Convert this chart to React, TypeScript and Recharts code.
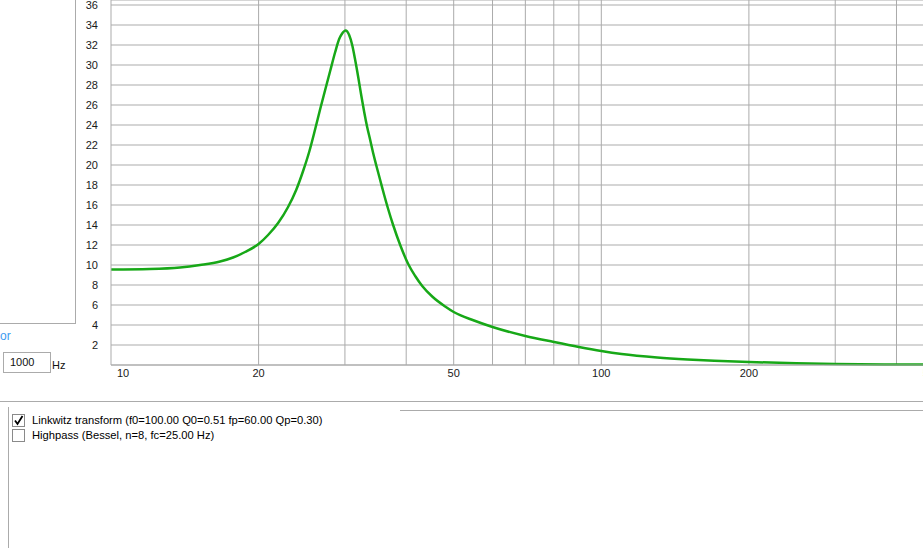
import { LineChart, Line, XAxis, YAxis, CartesianGrid, ReferenceLine } from 'recharts';

// frequency (Hz) and response (dB)
const freqs = [10, 12.01, 13.83, 15.19, 16.69, 17.74, 18.77, 20, 20.91, 21.92, 22.97, 23.86, 24.65, 25.36, 26.09, 26.71, 27.34, 27.99, 28.66, 29.2, 29.61, 30.1, 30.6, 31.04, 31.48, 31.93, 32.38, 32.84, 33.3, 33.78, 34.25, 34.74, 35.4, 36.07, 36.75, 37.62, 38.89, 40.38, 41.73, 43.13, 45.2, 48.04, 50, 55, 60, 70, 80, 90, 100, 110, 130, 150, 170, 200, 250, 300, 400, 500];
const gains = [9.55, 9.6, 9.75, 10.0, 10.35, 10.75, 11.3, 12.1, 13.0, 14.2, 15.8, 17.5, 19.4, 21.3, 23.6, 25.6, 27.5, 29.4, 31.3, 32.6, 33.15, 33.45, 33.0, 32.0, 30.5, 28.8, 27.0, 25.3, 23.8, 22.5, 21.2, 20.0, 18.5, 17.0, 15.6, 14.0, 12.0, 10.1, 8.9, 7.9, 6.85, 5.85, 5.3, 4.45, 3.8, 2.9, 2.3, 1.8, 1.4, 1.1, 0.75, 0.55, 0.42, 0.3, 0.18, 0.1, 0.05, 0.03];

const xTicks = [10, 20, 50, 100, 200, 500];
const xGrid = [20, 30, 40, 50, 60, 70, 80, 90, 100, 200, 300, 400];
const yTicks = [2, 4, 6, 8, 10, 12, 14, 16, 18, 20, 22, 24, 26, 28, 30, 32, 34, 36];

const legendItems = [
    { label: 'Linkwitz transform (f0=100.00 Q0=0.51 fp=60.00 Qp=0.30)', checked: true },
    { label: 'Highpass (Bessel, n=8, fc=25.00 Hz)', checked: false },
];

const data = freqs.map((f, i) => ({ f, db: gains[i] }));

const FONT = '"Liberation Sans", Arial, sans-serif';
const GRID = '#ababab';

const XTick = (props: any) => {
    const { x, y, payload, index } = props;
    const anchor = index === 0 ? 'start' : index === xTicks.length - 1 ? 'end' : 'middle';
    const dx = index === 0 ? 6 : index === xTicks.length - 1 ? -3 : 0;
    return (
        <text x={x + dx} y={y} dy="0.35em" textAnchor={anchor} fontSize={11} fontFamily={FONT} fill="#1a1a1a">
            {payload.value}
        </text>
    );
};

const YTick = (props: any) => {
    const { y, payload } = props;
    return (
        <text x={98} y={y} dy="0.35em" textAnchor="end" fontSize={11} fontFamily={FONT} fill="#1a1a1a">
            {payload.value}
        </text>
    );
};

const CheckBox = ({ checked }: { checked: boolean }) => (
    <svg width={13} height={13} style={{ display: 'block' }}>
        <rect x={0.5} y={0.5} width={12} height={12} fill="#fff" stroke="#8a8a8a" />
        {checked && <path d="M3 6.5 L5.5 10 L10.5 2" fill="none" stroke="#000" strokeWidth={1.8} />}
    </svg>
);

const App = () => {
    return (
        <div style={{ position: 'fixed', left: 0, top: 0, width: 923, height: 548, overflow: 'hidden', background: '#fff', fontFamily: FONT }}>
            {/* left side panel */}
            <div style={{ position: 'absolute', left: -1, top: -1, width: 77, height: 325, boxSizing: 'border-box', border: `1px solid ${GRID}` }} />
            <div style={{ position: 'absolute', left: 0, top: 329, fontSize: 12, color: '#3d9bf0' }}>or</div>
            <div style={{ position: 'absolute', left: 3, top: 352, width: 48, height: 21, boxSizing: 'border-box', border: `1px solid ${GRID}`, fontSize: 11, lineHeight: '19px', paddingLeft: 6, color: '#111' }}>1000</div>
            <div style={{ position: 'absolute', left: 52, top: 359, fontSize: 11, color: '#111' }}>Hz</div>

            <div style={{ position: 'absolute', left: 0, top: 0 }}>
                <LineChart width={944} height={390} data={data} margin={{ top: 0, right: 0, left: 0, bottom: 0 }}>
                    <CartesianGrid horizontal={true} vertical={false} stroke={GRID} strokeDasharray="" />
                    {xGrid.map((g) => (
                        <ReferenceLine key={g} x={g} stroke={GRID} />
                    ))}
                    <XAxis
                        dataKey="f"
                        type="number"
                        scale="log"
                        domain={[10, 500]}
                        ticks={xTicks}
                        allowDataOverflow
                        height={25}
                        tickSize={0}
                        tickMargin={8}
                        tickLine={false}
                        axisLine={{ stroke: GRID }}
                        tick={<XTick />}
                        interval={0}
                    />
                    <YAxis
                        type="number"
                        domain={[0, 36.5]}
                        ticks={yTicks}
                        width={111}
                        tickLine={false}
                        axisLine={{ stroke: GRID }}
                        tick={<YTick />}
                        interval={0}
                    />
                    <Line type="monotone" dataKey="db" stroke="#17a817" strokeWidth={2.5} dot={false} isAnimationActive={false} />
                </LineChart>
            </div>

            {/* bottom legend list */}
            <div style={{ position: 'absolute', left: 0, top: 401, width: 923, height: 1, background: GRID }} />
            <div style={{ position: 'absolute', left: 400, top: 410, width: 523, height: 1, background: GRID }} />
            <div style={{ position: 'absolute', left: 8, top: 407, width: 1, height: 141, background: GRID }} />
            {legendItems.map((item, i) => (
                <div key={item.label} style={{ position: 'absolute', left: 12, top: 413 + i * 15, display: 'flex', alignItems: 'center', height: 14 }}>
                    <CheckBox checked={item.checked} />
                    <span style={{ marginLeft: 7, fontSize: 11.2, color: '#000', whiteSpace: 'nowrap' }}>{item.label}</span>
                </div>
            ))}
        </div>
    );
};

export default App;
